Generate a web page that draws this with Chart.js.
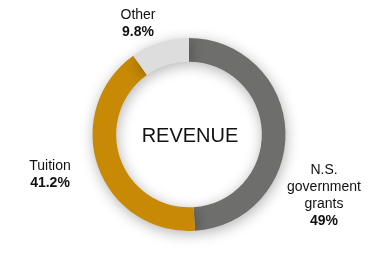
<!DOCTYPE html>
<html>
<head>
<meta charset="utf-8">
<script src="https://cdn.jsdelivr.net/npm/chart.js@4"></script>
<style>
  html, body { margin: 0; padding: 0; background: #ffffff; }
  #wrap { width: 375px; height: 275px; position: relative; }
</style>
</head>
<body>
<div id="wrap"><canvas id="myChart"></canvas></div>
<script>
// data
const categories = ["N.S. government grants", "Tuition", "Other"];
const labelLines = [["N.S.", "government", "grants"], ["Tuition"], ["Other"]];
const shares = [49, 41.2, 9.8];
const shareText = ["49%", "41.2%", "9.8%"];
const sliceColors = ["#6e6f6d", "#c88a05", "#dcdddc"];
const centerTitle = "REVENUE";

// label spots (block middle), relative to the doughnut centre
const labelSpots = [
  { dx: 135, dy: 61 },
  { dx: -139, dy: 40 },
  { dx: -51, dy: -111 },
];

const ringShadow = {
  id: "ringShadow",
  beforeDatasetsDraw(chart) {
    const ctx = chart.ctx;
    ctx.save();
    ctx.shadowColor = "rgba(0,0,0,0.3)";
    ctx.shadowBlur = 14;
    ctx.shadowOffsetX = 1;
    ctx.shadowOffsetY = 3;
  },
  afterDatasetsDraw(chart) {
    chart.ctx.restore();
  },
};

const textLabels = {
  id: "textLabels",
  afterDraw(chart) {
    const ctx = chart.ctx;
    const arc = chart.getDatasetMeta(0).data[0];
    const cx = arc.x;
    const cy = arc.y;
    ctx.save();
    ctx.fillStyle = "#111111";
    ctx.textAlign = "center";
    ctx.textBaseline = "middle";
    ctx.font = "20px 'Liberation Sans', Arial, sans-serif";
    ctx.fillText(centerTitle, cx + 1, cy + 2);

    const lh = 17;
    for (let i = 0; i < categories.length; i++) {
      const lines = labelLines[i];
      const x = cx + labelSpots[i].dx;
      const y = cy + labelSpots[i].dy;
      const total = lines.length + 1;
      const top = y - ((total - 1) * lh) / 2;
      ctx.font = "14px 'Liberation Sans', Arial, sans-serif";
      for (let j = 0; j < lines.length; j++) {
        ctx.fillText(lines[j], x, top + j * lh);
      }
      ctx.font = "bold 14px 'Liberation Sans', Arial, sans-serif";
      ctx.fillText(shareText[i], x, top + lines.length * lh);
    }
    ctx.restore();
  },
};

const el = document.getElementById("myChart");

new Chart(el, {
  type: "doughnut",
  data: {
    labels: categories,
    datasets: [
      {
        data: shares,
        backgroundColor: sliceColors,
        borderWidth: 0,
      },
    ],
  },
  options: {
    responsive: true,
    maintainAspectRatio: false,
    animation: false,
    cutout: "75.5%",
    rotation: 0,
    layout: {
      padding: { top: 38, bottom: 44, left: 3, right: 0 },
    },
    plugins: {
      legend: { display: false },
      tooltip: { enabled: false },
    },
  },
  plugins: [ringShadow, textLabels],
});
</script>
</body>
</html>
